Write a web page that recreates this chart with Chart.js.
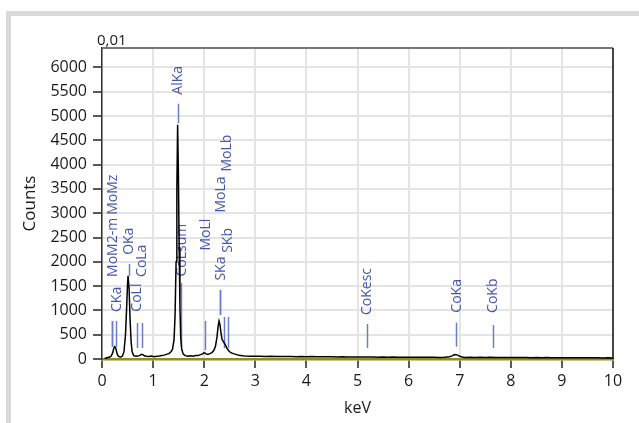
<!DOCTYPE html>
<html>
<head>
<meta charset="utf-8">
<script src="https://cdn.jsdelivr.net/npm/chart.js@4.4.1/dist/chart.umd.min.js"></script>
<style>
  html, body { margin: 0; padding: 0; background: #fff; }
  #frame {
    position: absolute; left: 6px; top: 11px; width: 700px; height: 500px;
    border-left: 5px solid #d9d9d9; border-top: 5px solid #d9d9d9;
  }
  #c { position: absolute; left: 0; top: 0; }
</style>
</head>
<body>
<div id="frame"></div>
<canvas id="c" width="639" height="423"></canvas>
<script>
// Spectrum: energy (keV) and counts
const energyKeV = [
  0.05, 0.10, 0.15, 0.18, 0.21, 0.23, 0.25, 0.27, 0.29, 0.31, 0.34, 0.37,
  0.40, 0.43, 0.46, 0.48, 0.50, 0.51, 0.53, 0.55, 0.57, 0.59, 0.62, 0.66,
  0.70, 0.74, 0.77, 0.80, 0.83, 0.87, 0.92, 0.97, 1.02, 1.07, 1.12, 1.17,
  1.22, 1.27, 1.31, 1.35, 1.38, 1.41, 1.43, 1.45, 1.465, 1.48, 1.495, 1.51,
  1.525, 1.54, 1.56, 1.59, 1.63, 1.68, 1.73, 1.78, 1.83, 1.88, 1.93, 1.97,
  2.00, 2.03, 2.07, 2.11, 2.15, 2.19, 2.22, 2.25, 2.27, 2.29, 2.31, 2.33,
  2.35, 2.38, 2.41, 2.44, 2.48, 2.52, 2.57, 2.62, 2.68, 2.75,
  2.8, 2.9, 3.0, 3.1, 3.2, 3.3, 3.4, 3.5, 3.6, 3.7, 3.8, 3.9,
  4.0, 4.1, 4.2, 4.3, 4.4, 4.5, 4.6, 4.7, 4.8, 4.9, 5.0, 5.1,
  5.2, 5.3, 5.4, 5.5, 5.6, 5.7, 5.8, 5.9, 6.0, 6.1, 6.2, 6.3,
  6.4, 6.5, 6.6, 6.7, 6.8, 6.85, 6.9, 6.95, 7.0, 7.05, 7.1, 7.2,
  7.3, 7.4, 7.5, 7.6, 7.7, 7.8, 7.9, 8.0, 8.1, 8.2, 8.3, 8.4,
  8.5, 8.6, 8.7, 8.8, 8.9, 9.0, 9.1, 9.2, 9.3, 9.4, 9.5, 9.6,
  9.7, 9.8, 9.9, 10.0
];
const counts = [
  10, 25, 40, 60, 130, 220, 255, 220, 130, 70, 45, 40,
  60, 150, 500, 1000, 1550, 1710, 1450, 800, 350, 150, 70, 55,
  60, 75, 95, 90, 65, 55, 50, 62, 48, 58, 60, 70,
  80, 100, 110, 150, 200, 400, 900, 2000, 3500, 4820, 3800, 2300,
  1100, 450, 200, 100, 70, 55, 68, 58, 72, 70, 90, 105,
  130, 110, 95, 110, 130, 180, 260, 450, 650, 780, 700, 520,
  400, 350, 300, 230, 170, 130, 110, 95, 75, 65,
  60, 58, 55, 57, 52, 55, 50, 53, 49, 52, 48, 50,
  47, 49, 45, 47, 44, 46, 42, 45, 41, 43, 40, 42,
  39, 41, 38, 40, 37, 39, 36, 38, 35, 37, 34, 36,
  34, 35, 33, 36, 45, 65, 90, 85, 55, 40, 33, 35,
  32, 34, 31, 35, 33, 30, 32, 30, 31, 29, 31, 28,
  30, 27, 29, 27, 28, 26, 28, 25, 27, 25, 26, 24,
  26, 23, 25, 23
];

// Element line markers
const markerNames = ['MoMz', 'MoM2-m', 'CKa', 'OKa', 'CoLl', 'CoLa', 'AlKa', 'CoLsum',
                     'MoLl', 'SKa', 'MoLa', 'MoLb', 'SKb', 'CoKesc', 'CoKa', 'CoKb'];
const markerKeV = [0.192, 0.192, 0.277, 0.525, 0.678, 0.776, 1.487, 1.552,
                   2.015, 2.30, 2.30, 2.395, 2.464, 5.18, 6.93, 7.649];

// Axis ticks
const xTicks = [0, 1, 2, 3, 4, 5, 6, 7, 8, 9, 10];
const yTicks = [0, 500, 1000, 1500, 2000, 2500, 3000, 3500, 4000, 4500, 5000, 5500, 6000];

// Marker layout in data units: [line bottom, line top, label keV, label start]
const MARKER_LAYOUT = [
  [247, 783, 0.215, 2967], [247, 783, 0.215, 1689], [247, 783, 0.294, 968],
  [1710, 1957, 0.535, 2143], [227, 742, 0.68, 974], [227, 742, 0.79, 1689],
  [4850, 5253, 1.494, 5439], [247, 1566, 1.56, 1696], [185, 783, 2.03, 2231],
  [906, 1421, 2.33, 1613], [906, 1421, 2.32, 3014], [227, 865, 2.44, 3859],
  [227, 865, 2.47, 2184], [227, 721, 5.18, 906], [253, 748, 6.945, 954],
  [227, 700, 7.65, 948]
];

const COLORS = {
  spectrum: '#000000',
  marker: '#6a7ec9',
  markerText: '#4557ad',
  grid: '#e4e4e4',
  text: '#1a1a1a',
  baseline: '#8e8e1c',
};

// Draws the element markers, the frame and the scale label
const markerPlugin = {
  id: 'markers',
  beforeDatasetsDraw(chart) {
    const { ctx, scales: { x, y } } = chart;
    ctx.save();
    ctx.strokeStyle = COLORS.marker;
    ctx.lineWidth = 1.5;
    markerKeV.forEach((e, i) => {
      const [lo, hi] = MARKER_LAYOUT[i];
      const px = Math.round(x.getPixelForValue(e)) + 0.5;
      ctx.beginPath();
      ctx.moveTo(px, y.getPixelForValue(lo));
      ctx.lineTo(px, y.getPixelForValue(hi));
      ctx.stroke();
    });
    ctx.fillStyle = COLORS.markerText;
    ctx.font = '14px "Open Sans"';
    ctx.textAlign = 'left';
    ctx.textBaseline = 'middle';
    markerNames.forEach((name, i) => {
      const [, , lx, ly] = MARKER_LAYOUT[i];
      ctx.save();
      ctx.translate(x.getPixelForValue(lx), y.getPixelForValue(ly));
      ctx.rotate(-Math.PI / 2);
      ctx.fillText(name, 0, 0);
      ctx.restore();
    });
    ctx.restore();
  },
  afterDraw(chart) {
    const { ctx, chartArea: a } = chart;
    ctx.save();
    ctx.strokeStyle = '#777';
    ctx.lineWidth = 2;
    ctx.beginPath();
    ctx.moveTo(a.left, a.top);
    ctx.lineTo(a.right, a.top);
    ctx.stroke();
    ctx.strokeStyle = '#111';
    ctx.lineWidth = 1.5;
    ctx.beginPath();
    ctx.moveTo(a.right, a.top);
    ctx.lineTo(a.right, a.bottom);
    ctx.stroke();
    ctx.fillStyle = COLORS.text;
    ctx.font = '15px "Open Sans"';
    ctx.textAlign = 'left';
    ctx.textBaseline = 'alphabetic';
    ctx.fillText('0,01', a.left - 5, a.top - 3);
    ctx.restore();
  }
};

new Chart(document.getElementById('c'), {
  type: 'line',
  data: {
    datasets: [{
      data: energyKeV.map((e, i) => ({ x: e, y: counts[i] })),
      borderColor: COLORS.spectrum,
      borderWidth: 1.5,
      pointRadius: 0,
      tension: 0,
      fill: false,
    }]
  },
  options: {
    responsive: false,
    animation: false,
    devicePixelRatio: 1,
    layout: { padding: { left: 16, right: 26, top: 48, bottom: 4 } },
    plugins: { legend: { display: false }, tooltip: { enabled: false } },
    scales: {
      x: {
        type: 'linear',
        min: 0,
        max: 10,
        afterBuildTicks: s => { s.ticks = xTicks.map(v => ({ value: v })); },
        afterFit: s => { s.height = 60; },
        grid: { color: COLORS.grid, lineWidth: 2, tickLength: 9, tickColor: '#222', tickWidth: 1.5 },
        border: { color: COLORS.baseline, width: 2.5 },
        ticks: { color: COLORS.text, font: { family: 'Open Sans', size: 16 }, padding: 4, maxRotation: 0,
                 callback: v => String(v) },
        title: { display: true, text: 'keV', color: COLORS.text, font: { family: 'Open Sans', size: 16 }, padding: { top: 0, bottom: 1 } }
      },
      y: {
        type: 'linear',
        min: 0,
        max: 6400,
        afterBuildTicks: s => { s.ticks = yTicks.map(v => ({ value: v })); },
        afterFit: s => { s.width = 86; },
        grid: { color: COLORS.grid, lineWidth: 2, tickLength: 9, tickColor: '#222', tickWidth: 1.5 },
        border: { color: '#333', width: 1.5 },
        ticks: { color: COLORS.text, font: { family: 'Open Sans', size: 16 }, padding: 6,
                 callback: v => String(v) },
        title: { display: true, text: 'Counts', color: COLORS.text, font: { family: 'Open Sans', size: 17 }, padding: { top: 4, bottom: 0 } }
      }
    }
  },
  plugins: [markerPlugin]
});
</script>
</body>
</html>
